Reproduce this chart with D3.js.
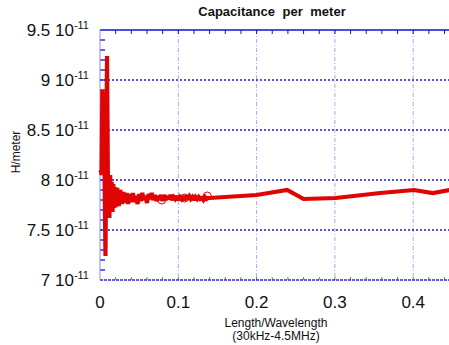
<!DOCTYPE html>
<html>
<head>
<meta charset="utf-8">
<script src="https://cdn.jsdelivr.net/npm/d3@7"></script>
<style>
  html, body { margin: 0; padding: 0; background: #fff; }
  svg { display: block; font-family: "Liberation Sans", Arial, sans-serif; }
</style>
</head>
<body>
<svg id="chart" width="449" height="345"></svg>
<script>
// Length/wavelength (x) and capacitance per meter in units of 1e-11 (y)
const lengthRatio = [
  0.001, 0.002, 0.003, 0.004, 0.005, 0.006, 0.007, 0.008, 0.009, 0.010, 0.011,
  0.012, 0.013, 0.014, 0.015, 0.016, 0.017, 0.018, 0.019, 0.020, 0.022, 0.024,
  0.026, 0.028, 0.030, 0.032, 0.034, 0.036, 0.038, 0.040, 0.042, 0.044, 0.046,
  0.048, 0.050, 0.052, 0.054, 0.056, 0.058, 0.060, 0.062, 0.064, 0.066, 0.068,
  0.070, 0.072, 0.074, 0.076, 0.078, 0.080, 0.082, 0.084, 0.086, 0.088, 0.090,
  0.092, 0.094, 0.096, 0.098, 0.100, 0.102, 0.104, 0.106, 0.108, 0.110, 0.112,
  0.114, 0.116, 0.118, 0.120, 0.122, 0.124, 0.126, 0.128, 0.130, 0.132, 0.134,
  0.136, 0.138, 0.140, 0.200, 0.239, 0.260, 0.301, 0.358, 0.401, 0.425, 0.470
];
const capacitance = [
  8.10, 8.05, 8.90, 8.20, 8.88, 7.90, 7.24, 8.30, 9.24, 8.10, 7.85,
  7.62, 8.05, 7.70, 7.98, 7.68, 7.96, 7.72, 7.93, 7.73, 7.92, 7.74,
  7.90, 7.76, 7.88, 7.77, 7.87, 7.76, 7.86, 7.78, 7.87, 7.78, 7.84,
  7.76, 7.86, 7.79, 7.87, 7.80, 7.84, 7.77, 7.86, 7.81, 7.87, 7.80,
  7.85, 7.79, 7.84, 7.80, 7.85, 7.79, 7.85, 7.80, 7.84, 7.81, 7.85,
  7.80, 7.83, 7.81, 7.84, 7.80, 7.83, 7.81, 7.84, 7.80, 7.83, 7.82,
  7.84, 7.81, 7.83, 7.80, 7.83, 7.81, 7.83, 7.81, 7.82, 7.80, 7.83,
  7.81, 7.82, 7.82, 7.85, 7.90, 7.81, 7.82, 7.87, 7.90, 7.87, 7.93
];
// Open-circle markers along the settled part of the curve
const markerX = [0.079, 0.108, 0.137];
const markerY = [7.80, 7.82, 7.84];

const yTicks = [7, 7.5, 8, 8.5, 9, 9.5];
const yTickMantissa = ["7", "7.5", "8", "8.5", "9", "9.5"];
const xTicks = [0, 0.1, 0.2, 0.3, 0.4];
const xTickLabels = ["0", "0.1", "0.2", "0.3", "0.4"];

const svg = d3.select("#chart");
const plotLeft = 100, plotTop = 30, plotBottom = 280;
const x = d3.scaleLinear().domain([0, 0.5]).range([plotLeft, plotLeft + 783 * 0.5]);
const y = d3.scaleLinear().domain([7, 9.5]).range([plotBottom, plotTop]);
const plotRight = x(0.5);

const blue = "#1010d8";

// Vertical grid lines
svg.append("g").selectAll("line").data(xTicks.filter(d => d > 0)).join("line")
  .attr("x1", d => x(d)).attr("x2", d => x(d))
  .attr("y1", plotTop).attr("y2", plotBottom)
  .attr("stroke", "#a8a8ee").attr("stroke-width", 1)
  .attr("stroke-dasharray", "4,2,1,2");

// Horizontal grid lines
svg.append("g").selectAll("line").data(yTicks.filter(d => d > 7 && d < 9.5)).join("line")
  .attr("x1", plotLeft).attr("x2", plotRight)
  .attr("y1", d => y(d)).attr("y2", d => y(d))
  .attr("stroke", "#1a1ad0").attr("stroke-width", 1.4)
  .attr("stroke-dasharray", "2,2");

// Minor ticks (left every 0.1, top/bottom every 0.02)
const yMinor = d3.range(71, 95).map(v => v / 10);
svg.append("g").selectAll("line").data(yMinor).join("line")
  .attr("x1", plotLeft).attr("x2", plotLeft + 5)
  .attr("y1", d => y(d)).attr("y2", d => y(d))
  .attr("stroke", blue).attr("stroke-width", 1.3);
const xMinor = d3.range(1, 25).map(v => v * 0.02);
svg.append("g").selectAll("line").data(xMinor).join("line")
  .attr("x1", d => x(d)).attr("x2", d => x(d))
  .attr("y1", plotTop).attr("y2", plotTop + 4)
  .attr("stroke", blue).attr("stroke-width", 1);
svg.append("g").selectAll("line").data(xMinor).join("line")
  .attr("x1", d => x(d)).attr("x2", d => x(d))
  .attr("y1", plotBottom).attr("y2", plotBottom - 3)
  .attr("stroke", "#6b6bea").attr("stroke-width", 1);

// Frame
svg.append("line").attr("x1", plotLeft).attr("x2", plotRight).attr("y1", plotTop).attr("y2", plotTop)
  .attr("stroke", blue).attr("stroke-width", 1.5);
svg.append("line").attr("x1", plotLeft).attr("x2", plotRight).attr("y1", plotBottom).attr("y2", plotBottom)
  .attr("stroke", "#2a2ae0").attr("stroke-width", 1.3).attr("stroke-dasharray", "3,1");
svg.append("line").attr("x1", plotLeft).attr("x2", plotLeft).attr("y1", plotTop).attr("y2", plotBottom)
  .attr("stroke", "#8c8cf0").attr("stroke-width", 1);

// Data curve
const pts = lengthRatio.map((d, i) => [d, capacitance[i]]);
svg.append("path").datum(pts)
  .attr("fill", "none").attr("stroke", "#e00404").attr("stroke-width", 4.2)
  .attr("stroke-linejoin", "miter").attr("stroke-miterlimit", 2)
  .attr("d", d3.line().x(d => x(d[0])).y(d => y(d[1])));

svg.append("g").selectAll("circle").data(markerX).join("circle")
  .attr("cx", d => x(d)).attr("cy", (d, i) => y(markerY[i])).attr("r", 4)
  .attr("fill", "none").attr("stroke", "#e00404").attr("stroke-width", 1);

// Y tick labels with exponent
const yl = svg.append("g").selectAll("text").data(yTicks).join("text")
  .attr("x", 89).attr("y", d => y(d) + 6)
  .attr("text-anchor", "end").attr("font-size", 17).attr("fill", "#111");
yl.append("tspan").text((d, i) => yTickMantissa[i] + " 10");
yl.append("tspan").attr("font-size", 11).attr("dy", -7).text("-11");

// X tick labels
svg.append("g").selectAll("text").data(xTicks).join("text")
  .attr("x", d => x(d)).attr("y", 308)
  .attr("text-anchor", "middle").attr("font-size", 17).attr("fill", "#111")
  .text((d, i) => xTickLabels[i]);

// Titles
svg.append("text").attr("x", 272).attr("y", 16).attr("text-anchor", "middle")
  .attr("font-size", 13).attr("font-weight", "bold").attr("word-spacing", 4)
  .attr("fill", "#111").text("Capacitance per meter");
svg.append("text").attr("x", 276).attr("y", 327).attr("text-anchor", "middle")
  .attr("font-size", 12).attr("fill", "#111").text("Length/Wavelength");
svg.append("text").attr("x", 276).attr("y", 340).attr("text-anchor", "middle")
  .attr("font-size", 12).attr("fill", "#111").text("(30kHz-4.5MHz)");
svg.append("text").attr("transform", "translate(20,152) rotate(-90)")
  .attr("text-anchor", "middle").attr("font-size", 12).attr("fill", "#111")
  .text("H/meter");
</script>
</body>
</html>
